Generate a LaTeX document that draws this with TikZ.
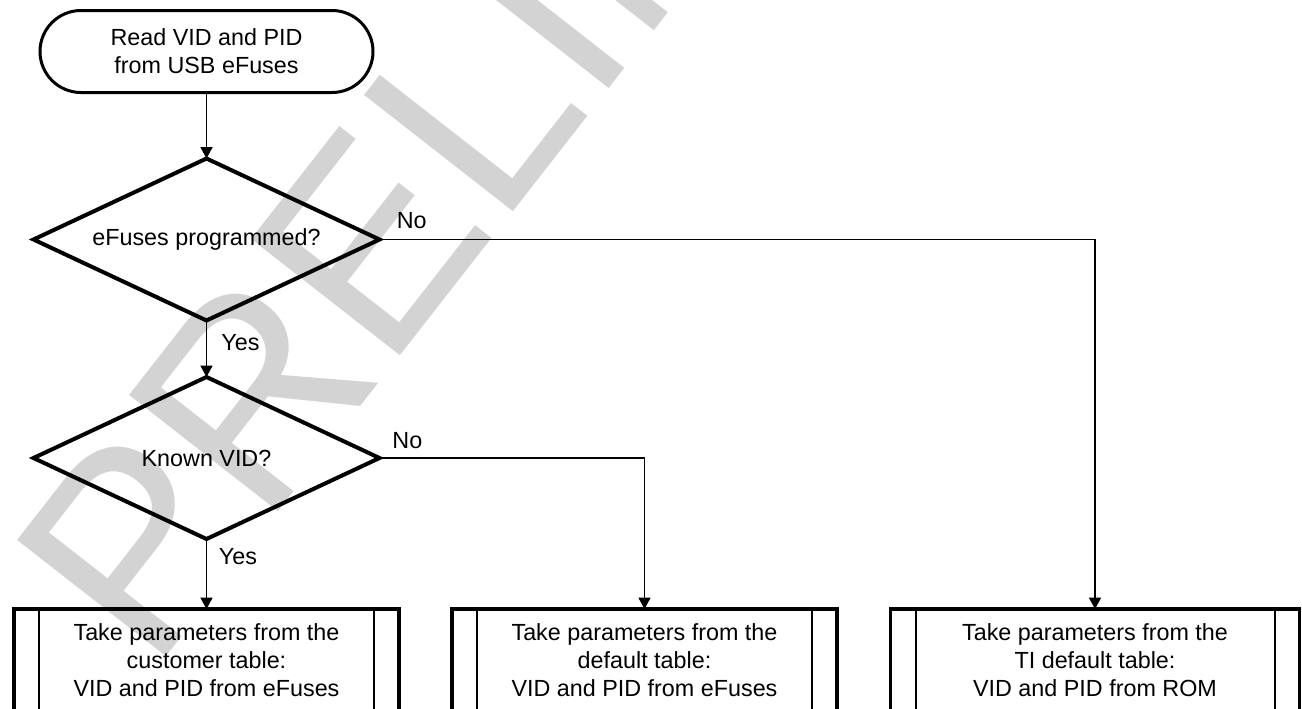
\documentclass[tikz,border=0pt]{standalone}
\usepackage{fontspec}
\setmainfont{Liberation Sans}
\usetikzlibrary{shapes.geometric,arrows.meta}
\definecolor{wmgray}{RGB}{211,211,211}
\begin{document}
\begin{tikzpicture}[x=0.75pt,y=-0.75pt,
  every node/.style={font=\fontsize{17.5pt}{21pt}\selectfont, align=center, inner sep=0pt, outer sep=0pt},
  wmark/.style={anchor=base west, rotate=52, text=wmgray, font=\fontsize{206pt}{240pt}\selectfont},
  term/.style={draw, line width=2.25pt, rounded corners=30.75pt, minimum width=249.75pt, minimum height=61.5pt},
  decision/.style={draw, diamond, line width=3pt, minimum width=259.5pt, minimum height=121.5pt, aspect=2.14},
  procbox/.style={draw, line width=2.75pt, minimum height=76.5pt,
    path picture={\draw[line width=1.5pt]
      ([xshift=18.75pt]path picture bounding box.north west) -- ([xshift=18.75pt]path picture bounding box.south west)
      ([xshift=-18.75pt]path picture bounding box.north east) -- ([xshift=-18.75pt]path picture bounding box.south east);}},
  conn/.style={line width=1pt, -{Triangle[length=8.5pt,width=9pt]}},
  lbl/.style={anchor=base}
]
\useasboundingbox (0,0) rectangle (1302,708);
\clip (0,0) rectangle (1302,708);

% watermark
\node[wmark] (wm) at (152,674) {PRELIMINARY};

% nodes
\node[term] (start) at (206.5,51.5) {Read VID and PID\\from USB eFuses};
\node[decision] (d1) at (206.5,239.5) {eFuses programmed?};
\node[decision] (d2) at (206.5,458) {Known VID?};
\node[procbox, minimum width=288.75pt] (b1) at (206.5,660) {Take parameters from the\\customer table:\\VID and PID from eFuses};
\node[procbox, minimum width=288.75pt] (b2) at (644.5,660) {Take parameters from the\\default table:\\VID and PID from eFuses};
\node[procbox, minimum width=306.75pt] (b3) at (1095,660) {Take parameters from the\\TI default table:\\VID and PID from ROM};

% connectors
\draw[conn] (start.south) -- (d1.north);
\draw[conn] (d1.south) -- (d2.north);
\draw[conn] (d2.south) -- (b1.north);
\draw[conn] (d1.east) -| (b3.north);
\draw[conn] (d2.east) -| (b2.north);

% labels
\node[lbl] (no1) at (411.7,228) {No};
\node[lbl] (yes1) at (240.5,350) {Yes};
\node[lbl] (no2) at (407.4,448) {No};
\node[lbl] (yes2) at (238,564) {Yes};
\end{tikzpicture}
\end{document}
